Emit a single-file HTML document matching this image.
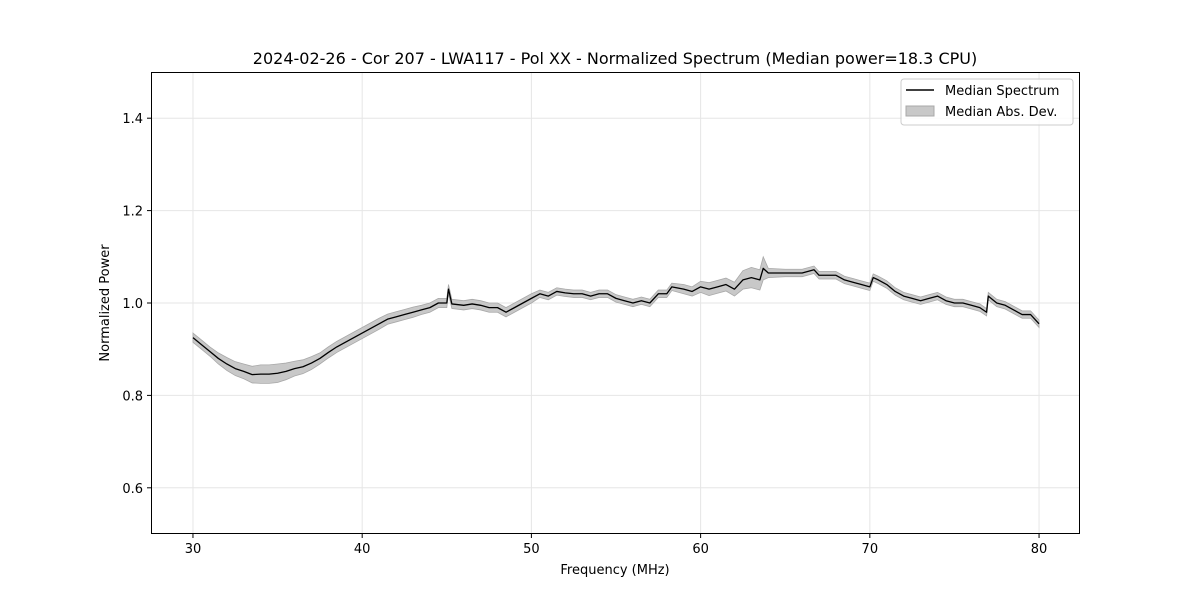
<!DOCTYPE html>
<html><head><meta charset="utf-8"><style>
html,body{margin:0;padding:0;background:#fff;}
svg{display:block;font-family:"DejaVu Sans","Liberation Sans",sans-serif;}
</style></head><body>
<svg id="chart" width="1200" height="600" viewBox="0 0 1200 600">
<text x="615" y="64" text-anchor="middle" font-size="16">2024-02-26 - Cor 207 - LWA117 - Pol XX - Normalized Spectrum (Median power=18.3 CPU)</text>
<g id="grid"></g>
<g id="band"></g>
<g id="line"></g>
<rect x="151.5" y="72.5" width="928" height="461" fill="none" stroke="#000" stroke-width="1"/>
<g id="xticks"></g>
<g id="yticks"></g>
<text x="615" y="574" text-anchor="middle" font-size="13">Frequency (MHz)</text>
<text x="109" y="303" text-anchor="middle" font-size="13" transform="rotate(-90 109 303)">Normalized Power</text>
<g>
<rect x="901" y="79" width="172" height="46" rx="3" fill="#fff" fill-opacity="0.8" stroke="#ccc"/>
<line x1="906" y1="90" x2="934" y2="90" stroke="#000" stroke-width="1.5"/>
<text x="945" y="95" font-size="13">Median Spectrum</text>
<rect x="906" y="106" width="28" height="10" fill="#c8c8c8" stroke="#a8a8a8"/>
<text x="945" y="116" font-size="13">Median Abs. Dev.</text>
</g>
</svg>
<script>
const freqs=[30,30.5,31,31.5,32,32.5,33,33.5,34,34.5,35,35.5,36,36.5,37,37.5,38,38.5,39,39.5,40,40.5,41,41.5,42,42.5,43,43.5,44,44.5,45,45.1,45.3,46,46.5,47,47.5,48,48.5,49,49.5,50,50.5,51,51.5,52,52.5,53,53.5,54,54.5,55,55.5,56,56.5,57,57.5,58,58.3,59,59.5,60,60.5,61,61.5,62,62.5,63,63.5,63.7,64,65,66,66.7,67,68,68.5,69,69.5,70,70.2,70.5,71,71.5,72,72.5,73,73.5,74,74.5,75,75.5,76,76.5,76.9,77,77.5,78,78.5,79,79.5,80];
const median=[0.925,0.91,0.895,0.88,0.868,0.858,0.852,0.845,0.846,0.846,0.848,0.852,0.858,0.862,0.87,0.88,0.893,0.905,0.915,0.925,0.935,0.945,0.955,0.965,0.97,0.975,0.98,0.985,0.99,1.0,1.0,1.03,0.998,0.995,0.998,0.995,0.99,0.99,0.98,0.99,1.0,1.01,1.02,1.015,1.025,1.022,1.02,1.02,1.015,1.02,1.02,1.01,1.005,1.0,1.005,1.0,1.02,1.02,1.035,1.03,1.025,1.035,1.03,1.035,1.04,1.03,1.05,1.055,1.05,1.075,1.065,1.065,1.065,1.072,1.06,1.06,1.05,1.045,1.04,1.035,1.055,1.05,1.04,1.025,1.015,1.01,1.005,1.01,1.015,1.005,1.0,1.0,0.995,0.99,0.98,1.015,1.0,0.995,0.985,0.975,0.975,0.955];
const mad=[0.01,0.01,0.01,0.012,0.014,0.015,0.016,0.018,0.02,0.02,0.02,0.018,0.016,0.015,0.014,0.012,0.012,0.012,0.012,0.012,0.012,0.012,0.012,0.011,0.011,0.011,0.011,0.01,0.01,0.01,0.01,0.01,0.01,0.01,0.01,0.01,0.01,0.01,0.01,0.01,0.01,0.01,0.008,0.008,0.008,0.008,0.008,0.008,0.008,0.008,0.008,0.008,0.008,0.008,0.008,0.008,0.008,0.008,0.008,0.01,0.01,0.012,0.014,0.014,0.014,0.015,0.02,0.022,0.022,0.025,0.01,0.008,0.008,0.008,0.008,0.008,0.008,0.008,0.008,0.008,0.008,0.008,0.008,0.008,0.008,0.008,0.008,0.008,0.008,0.008,0.008,0.008,0.008,0.008,0.008,0.008,0.008,0.008,0.008,0.008,0.008,0.008];
const xTicks=[30,40,50,60,70,80];
const yTicks=[0.6,0.8,1.0,1.2,1.4];
const yTickLabels=["0.6","0.8","1.0","1.2","1.4"];
const NS='http://www.w3.org/2000/svg';
const L=151,R=1080,T=72,B=534,XMIN=27.52,XMAX=82.42,YMIN=0.5,YMAX=1.5;
const sx=v=>L+(v-XMIN)/(XMAX-XMIN)*(R-L);
const sy=v=>B-(v-YMIN)/(YMAX-YMIN)*(B-T);
function mk(tag,attrs,parent){const e=document.createElementNS(NS,tag);for(const k in attrs)e.setAttribute(k,attrs[k]);parent.appendChild(e);return e;}
const grid=document.getElementById('grid'),xt=document.getElementById('xticks'),yt=document.getElementById('yticks');
xTicks.forEach(v=>{const x=sx(v);
const g=mk('line',{x1:x,x2:x,y1:T,y2:B,stroke:'#e6e6e6','stroke-width':1},grid);


const t=mk('line',{x1:x,x2:x,y1:B,y2:B+4,stroke:'#000'},xt);


const tx=mk('text',{x:x,y:B+19,'text-anchor':'middle','font-size':13},xt);tx.textContent=v;

});
yTicks.forEach((v,i)=>{const y=sy(v);
const g=mk('line',{x1:L,x2:R,y1:y,y2:y,stroke:'#e6e6e6','stroke-width':1},grid);


const t=mk('line',{x1:L-4,x2:L,y1:y,y2:y,stroke:'#000'},yt);


const tx=mk('text',{x:L-8,y:y+5,'text-anchor':'end','font-size':13},yt);tx.textContent=yTickLabels[i];

});
let up=freqs.map((f,i)=>sx(f)+','+sy(median[i]+mad[i]));
let dn=freqs.map((f,i)=>sx(f)+','+sy(median[i]-mad[i])).reverse();
const band=mk('polygon',{points:up.concat(dn).join(' '),fill:'#c8c8c8',stroke:'#a8a8a8','stroke-width':0.8},document.getElementById('band'));


const ln=mk('polyline',{points:freqs.map((f,i)=>sx(f)+','+sy(median[i])).join(' '),fill:'none',stroke:'#000','stroke-width':1.3,'stroke-linejoin':'round'},document.getElementById('line'));


</script>
</body></html>
